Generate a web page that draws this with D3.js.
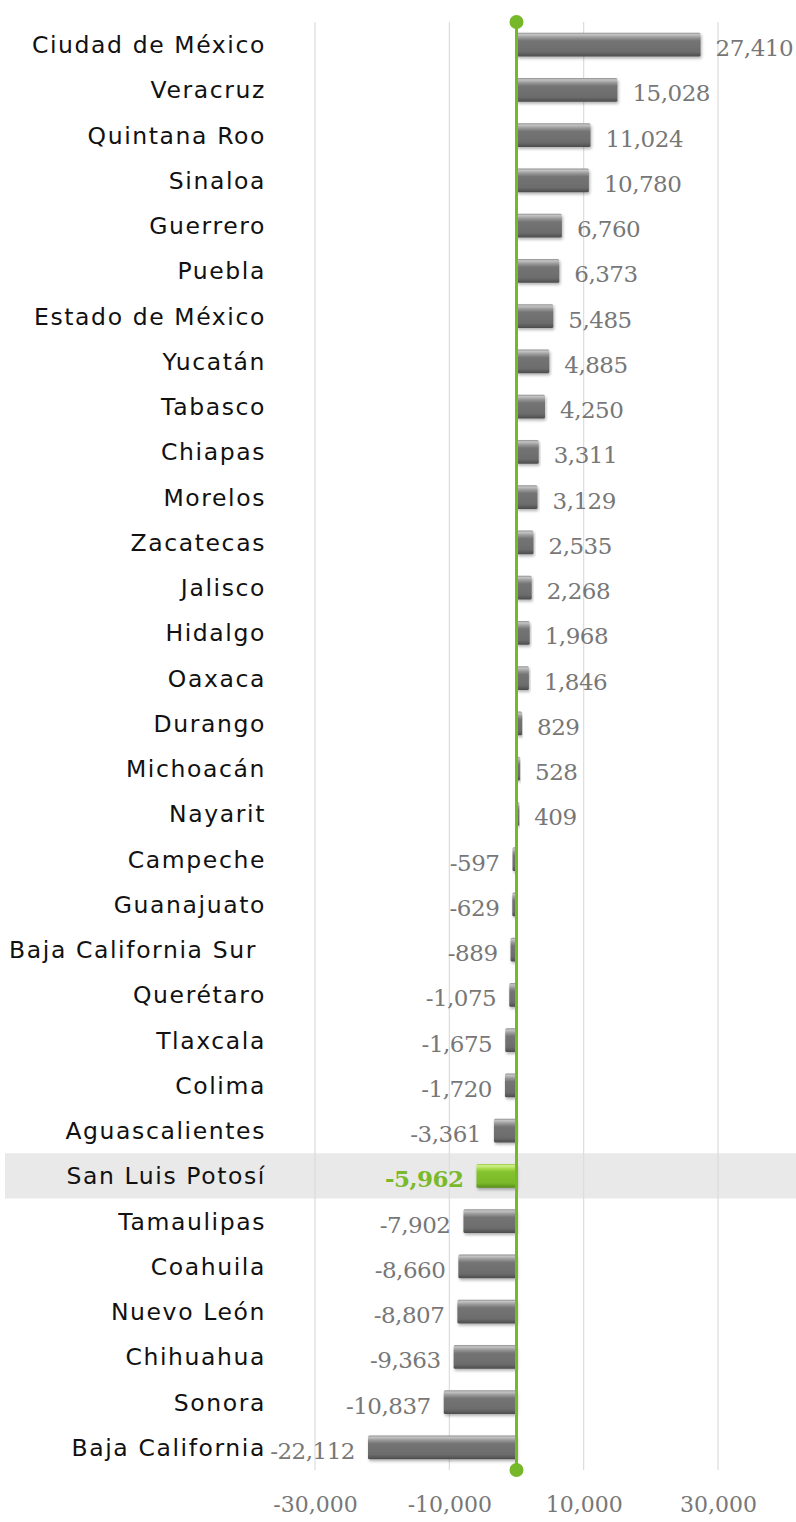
<!DOCTYPE html>
<html lang="es">
<head>
<meta charset="utf-8">
<title>Estados</title>
<script src="https://cdn.jsdelivr.net/npm/d3@7"></script>
<style>
  html, body { margin: 0; padding: 0; background: #fff; }
  svg { display: block; }
  .state { font: 23.5px "DejaVu Sans", "Noto Sans", sans-serif; fill: #111; letter-spacing: 1.6px; white-space: pre; }
  .val { font: 23px "DejaVu Serif", "Liberation Serif", serif; fill: #777; }
  .tick text { font: 22px "DejaVu Serif", "Liberation Serif", serif; fill: #777; }
</style>
</head>
<body>
<div id="chart"></div>
<script>
var states = ["Ciudad de México","Veracruz","Quintana Roo","Sinaloa","Guerrero","Puebla",
  "Estado de México","Yucatán","Tabasco","Chiapas","Morelos","Zacatecas","Jalisco","Hidalgo",
  "Oaxaca","Durango","Michoacán","Nayarit","Campeche","Guanajuato","Baja California Sur ",
  "Querétaro","Tlaxcala","Colima","Aguascalientes","San Luis Potosí","Tamaulipas","Coahuila",
  "Nuevo León","Chihuahua","Sonora","Baja California"];
var values = [27410,15028,11024,10780,6760,6373,5485,4885,4250,3311,3129,2535,2268,1968,
  1846,829,528,409,-597,-629,-889,-1075,-1675,-1720,-3361,-5962,-7902,-8660,-8807,-9363,
  -10837,-22112];
var tickValues = [-30000,-10000,10000,30000];
var highlight = "San Luis Potosí";

var width = 796, height = 1522;
var svg = d3.select("#chart").append("svg")
    .attr("width", width).attr("height", height);

var locale = d3.formatLocale({decimal: ".", thousands: ",", grouping: [3], currency: ["$", ""], minus: "-"});
var fmt = locale.format(",");

var x = d3.scaleLinear().domain([-30000, 30000]).range([315, 718]);
var y = d3.scaleBand().domain(states).range([22, 1470]).paddingInner(0.47).paddingOuter(0.235);
var band = y.step();

var defs = svg.append("defs");
function grad(id, stops) {
  var g = defs.append("linearGradient").attr("id", id)
    .attr("x1", 0).attr("y1", 0).attr("x2", 0).attr("y2", 1);
  stops.forEach(function(s) { g.append("stop").attr("offset", s[0]).attr("stop-color", s[1]); });
}
grad("gray", [[0, "#8c8c8c"], [0.08, "#c4c4c4"], [0.2, "#9a9a9a"], [0.34, "#747474"], [0.8, "#6c6c6c"], [0.9, "#5c5c5c"], [1, "#4a4a4a"]]);
grad("green", [[0, "#8fcc3a"], [0.08, "#d2f08e"], [0.2, "#a6db4c"], [0.34, "#84c32e"], [0.8, "#7bb92a"], [0.9, "#68a320"], [1, "#548a18"]]);
var f = defs.append("filter").attr("id", "shadow").attr("x", "-10%").attr("y", "-30%").attr("width", "120%").attr("height", "170%");
f.append("feDropShadow").attr("dx", 1).attr("dy", 2).attr("stdDeviation", 1.5).attr("flood-color", "#000").attr("flood-opacity", 0.3);

// highlighted row background
svg.append("rect")
  .attr("x", 5).attr("width", width - 5)
  .attr("y", y(highlight) - band * 0.235).attr("height", band)
  .attr("fill", "#e9e9e9");

// gridlines
svg.append("g").selectAll("line").data(tickValues).join("line")
  .attr("x1", function(d) { return x(d); }).attr("x2", function(d) { return x(d); })
  .attr("y1", 22).attr("y2", 1470)
  .attr("stroke", "#dcdcdc").attr("stroke-width", 1.2);

// axis labels
var axis = svg.append("g").attr("transform", "translate(0,1494)")
  .call(d3.axisBottom(x).tickValues(tickValues).tickFormat(fmt).tickSize(0));
axis.select(".domain").remove();
axis.selectAll(".tick text").attr("dy", "0.7em");

// bars
var data = states.map(function(s, i) { return {state: s, value: values[i]}; });
svg.append("g").selectAll("rect").data(data).join("rect")
  .attr("x", function(d) { return x(Math.min(0, d.value)); })
  .attr("width", function(d) { return Math.abs(x(d.value) - x(0)); })
  .attr("y", function(d) { return y(d.state); })
  .attr("height", y.bandwidth())
  .attr("rx", 1.5)
  .attr("fill", function(d) { return d.state === highlight ? "url(#green)" : "url(#gray)"; })
  .attr("filter", "url(#shadow)");

// state labels
svg.append("g").selectAll("text").data(data).join("text")
  .attr("class", "state")
  .attr("x", 266)
  .attr("y", function(d) { return y(d.state) + y.bandwidth() / 2; })
  .attr("dy", "0.36em")
  .attr("text-anchor", "end")
  .text(function(d) { return d.state; });

// value labels
svg.append("g").selectAll("text").data(data).join("text")
  .attr("class", "val")
  .attr("x", function(d) { return d.value >= 0 ? x(d.value) + 15 : x(d.value) - 13; })
  .attr("y", function(d) { return y(d.state) + y.bandwidth() / 2; })
  .attr("dy", "0.5em")
  .attr("text-anchor", function(d) { return d.value >= 0 ? "start" : "end"; })
  .style("fill", function(d) { return d.state === highlight ? "#7ab929" : null; })
  .style("font-weight", function(d) { return d.state === highlight ? "bold" : null; })
  .style("letter-spacing", "-0.5px")
  .text(function(d) { return fmt(d.value); });

// zero line
svg.append("line")
  .attr("x1", x(0)).attr("x2", x(0)).attr("y1", 22).attr("y2", 1470)
  .attr("stroke", "#76b82a").attr("stroke-width", 3);
svg.append("g").selectAll("circle").data([22, 1470]).join("circle")
  .attr("cx", x(0)).attr("cy", function(d) { return d; }).attr("r", 7)
  .attr("fill", "#76b82a");
</script>
</body>
</html>
